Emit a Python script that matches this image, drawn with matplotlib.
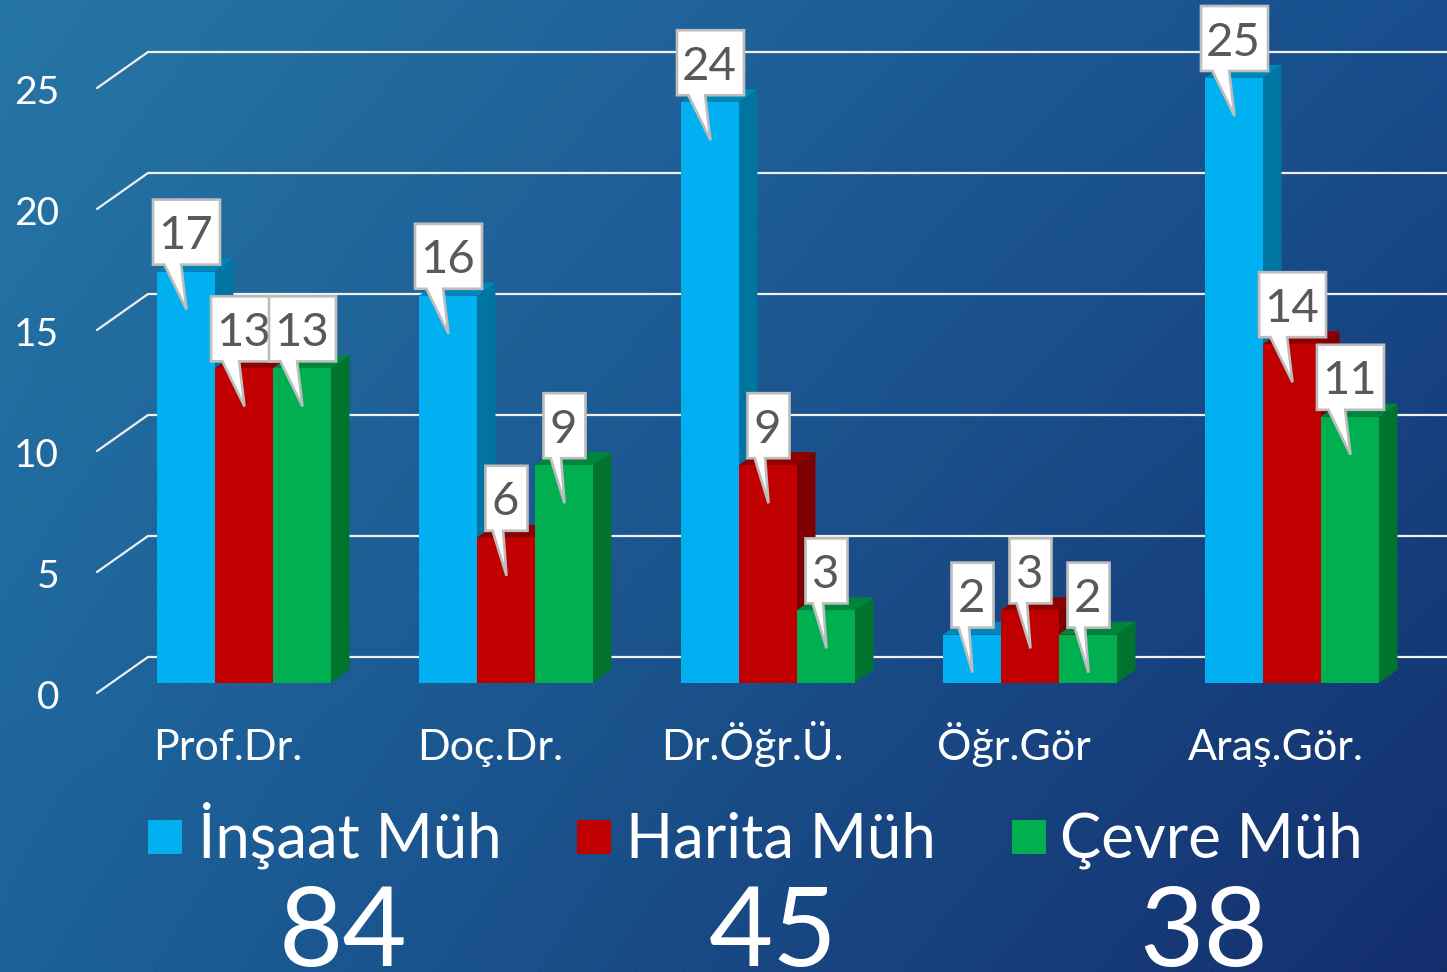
import numpy as np
import matplotlib
matplotlib.use('Agg')
import matplotlib.pyplot as plt
from matplotlib.patches import Polygon

# ---------- data ----------
categories = ['Prof.Dr.', 'Doç.Dr.', 'Dr.Öğr.Ü.', 'Öğr.Gör', 'Araş.Gör.']
insaat = [17, 16, 24, 2, 25]
harita = [13, 6, 9, 3, 14]
cevre = [13, 9, 3, 2, 11]
legend_names = ['İnşaat Müh', 'Harita Müh', 'Çevre Müh']
totals = [84, 45, 38]
y_ticks = [0, 5, 10, 15, 20, 25]

W, H = 1447, 972
X0_PX, Y0_PX = 243.5, 683  # pixel of data (0, 0)
PX_X, PX_Y = 262.0, 24.2   # pixels per data unit
BAR_W = 58.0 / PX_X

def dx(p):
    return p / PX_X

def dy(p):
    return p / PX_Y

plt.rcParams['font.family'] = ['Lato', 'DejaVu Sans']

fig = plt.figure(figsize=(W / 100, H / 100), dpi=100)

# background gradient with fine diagonal stripes
yy, xx = np.mgrid[0:H, 0:W]
u = xx / (W - 1)
v = yy / (H - 1)
tl = np.array([38, 118, 165.])
tr = np.array([24, 78, 142.])
bl = np.array([28, 98, 155.])
br = np.array([20, 46, 108.])
bg = ((1 - u) * (1 - v))[..., None] * tl + (u * (1 - v))[..., None] * tr \
    + ((1 - u) * v)[..., None] * bl + (u * v)[..., None] * br
stripes = np.where((xx + yy) % 6 < 3, 1.5, -1.5)
bg = np.clip(bg + stripes[..., None], 0, 255).astype(np.uint8)
fig.figimage(bg, 0, 0, origin='upper', zorder=-10)

ax = fig.add_axes([0, 0, 1, 1])
ax.set_xlim(-X0_PX / PX_X, (W - X0_PX) / PX_X)
ax.set_ylim(-(H - Y0_PX) / PX_Y, Y0_PX / PX_Y)
ax.axis('off')

# back wall grid lines with the diagonal floor/wall edge on the left
for t in y_ticks:
    back_y = t + dy(26)
    ax.plot([dx(97 - X0_PX), dx(148 - X0_PX), dx(W - X0_PX)],
            [t - dy(10), back_y, back_y],
            color='#f0f0f0', lw=1.6, zorder=1, solid_capstyle='round')
    ax.text(dx(59 - X0_PX), t - dy(25.5), str(t), color='white', fontsize=28,
            ha='right', va='baseline', zorder=1)

series = [
    (insaat, '#00B0F0', '#0075A2', '#0086B8'),
    (harita, '#C00000', '#7E0000', '#900000'),
    (cevre, '#00B050', '#00742F', '#00863C'),
]
DEPTH_X, DEPTH_Y = dx(19), dy(13)

z = 2
for g in range(len(categories)):
    for s, (vals, front, side, top) in enumerate(series):
        x = g - 1.5 * BAR_W + s * BAR_W
        val = vals[g]
        ax.add_patch(Polygon([(x + BAR_W, 0), (x + BAR_W + DEPTH_X, DEPTH_Y),
                              (x + BAR_W + DEPTH_X, val + DEPTH_Y), (x + BAR_W, val)],
                             facecolor=side, edgecolor='none', zorder=z))
        ax.add_patch(Polygon([(x, val), (x + DEPTH_X, val + DEPTH_Y),
                              (x + BAR_W + DEPTH_X, val + DEPTH_Y), (x + BAR_W, val)],
                             facecolor=top, edgecolor='none', zorder=z))
        ax.bar(x, val, width=BAR_W, align='edge', color=front, zorder=z)
        z += 1

# callouts go over every bar
for g in range(len(categories)):
    for s, (vals, front, side, top) in enumerate(series):
        val = vals[g]
        tip_x = g - BAR_W + s * BAR_W + dx(1)
        tip_y = val - dy(38)
        w = 67 if val >= 10 else 42
        left = tip_x - dx(w / 2)
        right = tip_x + dx(w / 2)
        bot = tip_y + dy(45)
        high = bot + dy(65)
        pts = [(left, bot), (left, high), (right, high), (right, bot),
               (left + dx(0.42 * w), bot), (tip_x, tip_y), (left + dx(0.17 * w), bot)]
        ax.add_patch(Polygon(pts, closed=True, facecolor='white', edgecolor='#bdbdbd',
                             lw=1.9, zorder=z, joinstyle='miter'))
        ax.text(tip_x - dx(1), (bot + high) / 2 - dy(17), str(val), color='#595959', fontsize=34,
                ha='center', va='baseline', zorder=z)
        z += 1

for g, name in enumerate(categories):
    ax.text(g - dx(15.5), dy(683 - 760), name, color='white', fontsize=31,
            ha='center', va='baseline')

# legend row and the totals beneath it
square_px = [148, 577, 1012]
label_px = [198, 626, 1060]
total_px = [343, 773, 1204]
for name, total, (vals, front, side, top), sq, lb, tp in zip(legend_names, totals, series,
                                                             square_px, label_px, total_px):
    ax.add_patch(Polygon([(dx(sq - X0_PX), dy(683 - 854)), (dx(sq + 34 - X0_PX), dy(683 - 854)),
                          (dx(sq + 34 - X0_PX), dy(683 - 820)), (dx(sq - X0_PX), dy(683 - 820))],
                         facecolor=front, edgecolor='none'))
    ax.text(dx(lb - X0_PX), dy(683 - 857), name, color='white', fontsize=44.5,
            ha='left', va='baseline')
    ax.text(dx(tp - X0_PX), dy(683 - 966), str(total), color='white', fontsize=80,
            ha='center', va='baseline')

fig.savefig('out.png', dpi=100)
